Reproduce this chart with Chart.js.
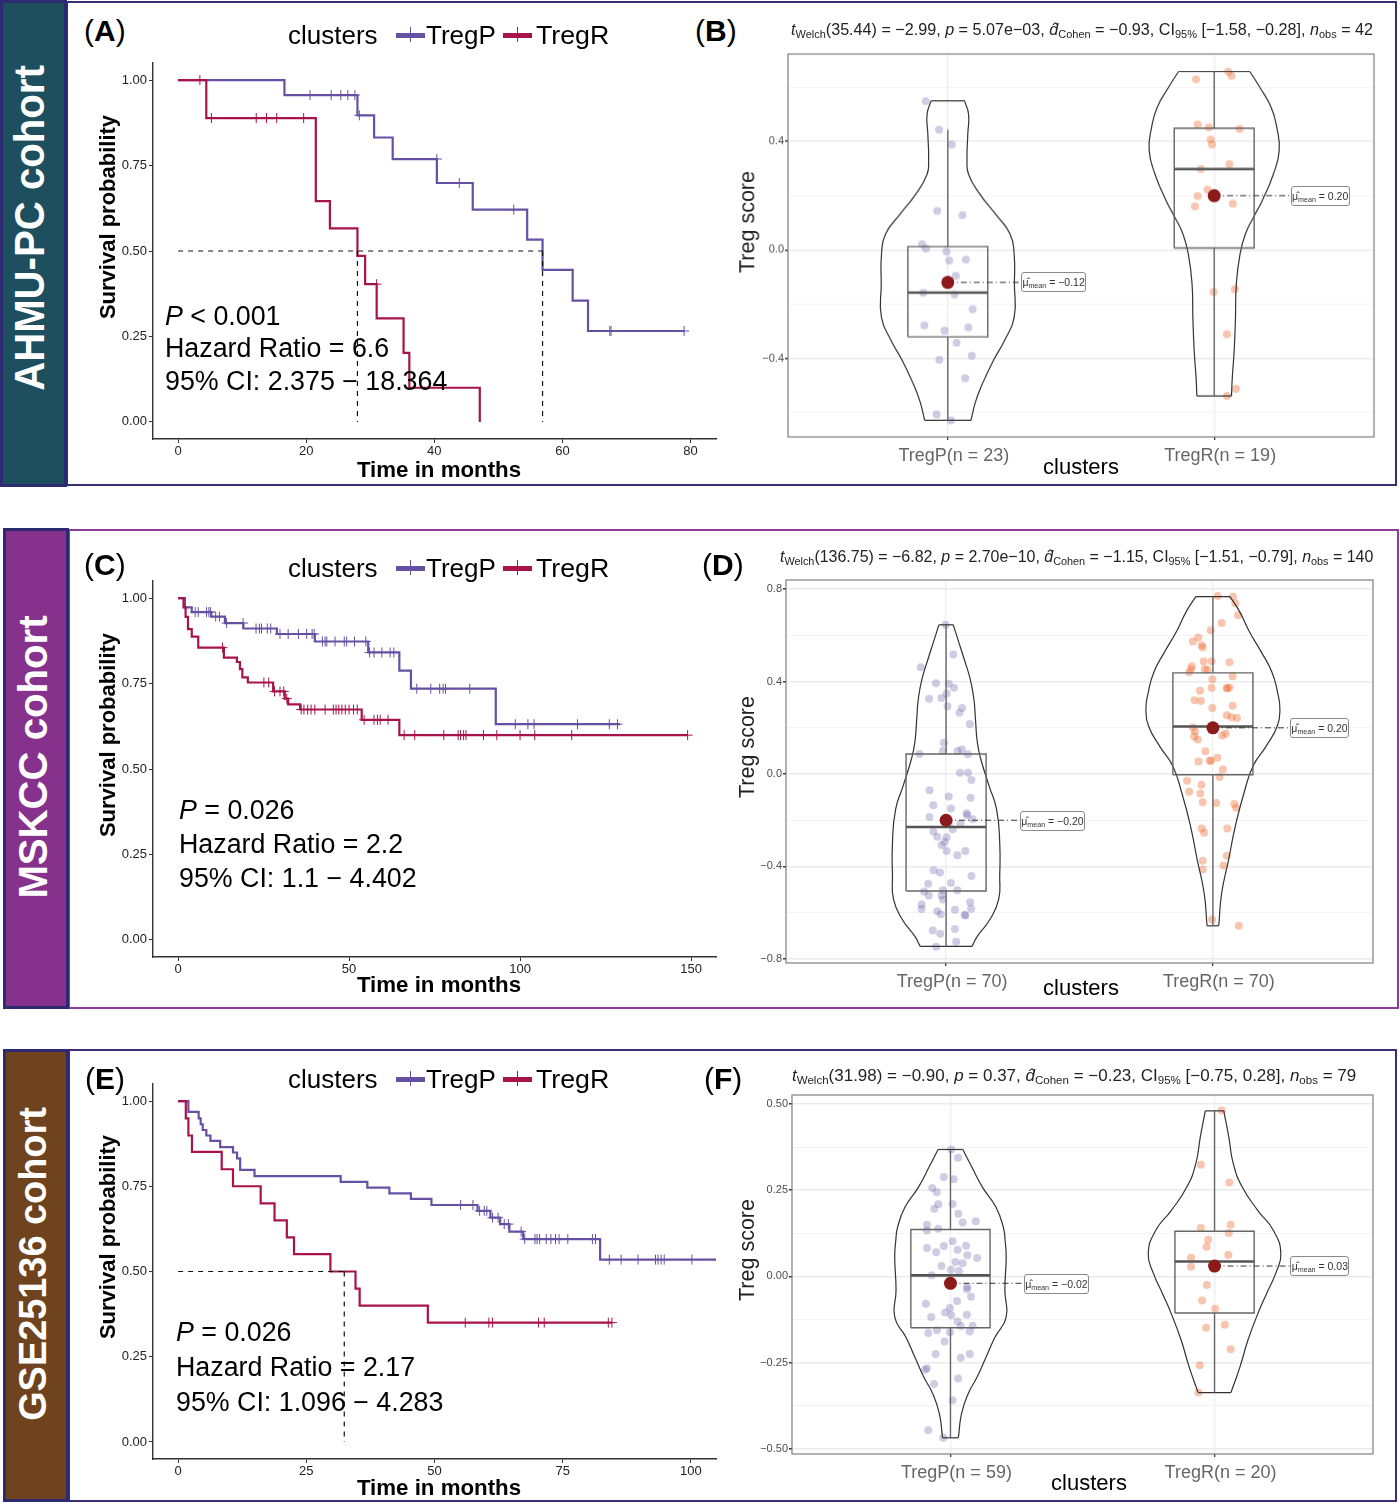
<!DOCTYPE html>
<html><head><meta charset="utf-8">
<script src="https://cdn.jsdelivr.net/npm/chart.js@4"></script>
<style>
html,body{margin:0;padding:0;background:#fff}
#page{position:relative;width:1400px;height:1503px;overflow:hidden;background:#fff;font-family:"Liberation Sans",Arial,sans-serif}
canvas{position:absolute}
.t{position:absolute;white-space:nowrap;line-height:1;color:#000}
.frame,.band{position:absolute;box-sizing:border-box}
.mean{position:absolute;box-sizing:border-box;height:20px;background:#fff;border:1px solid #8a8a8a;border-radius:3px;font-size:10.5px;line-height:18px;text-align:center;color:#333;white-space:nowrap}
sub{font-size:68%;line-height:0;vertical-align:-0.3em}
</style></head><body><div id="page"></div>
<script>
// ---------- Kaplan-Meier data (panel A) ----------
const aPt=[0,16.6,28,30.6,33.5,40.4,46,54.5,56.9,61.6,64,79];
const aPs=[1,.956,.897,.832,.769,.699,.621,.533,.445,.355,.266,.266];
const aRt=[0,4.4,21.5,23.7,28,29.2,31,35.2,36.1,47.1];
const aRs=[1,.889,.646,.566,.486,.403,.303,.202,.1,0];
const aPc=[[.956,[20.6,23.9,25.4,26.5,27.6]],[.897,[28.3]],[.769,[40.4]],[.699,[43.9]],[.621,[52.4]],[.266,[67.4,67.6,79]]];
const aRc=[[1,[3.4]],[.889,[5.2,12.2,13.8,15.4,19.6]],[.403,[31]]];
const aMedians=[28,56.9];
const aTicksX=[0,20,40,60,80];
// ---------- panel C ----------
const cPt=[0,2,4,9.7,13.7,19.1,28.9,40,55.6,64.7,68.1,92.9,129.2];
const cPs=[1,.973,.959,.946,.927,.911,.895,.873,.841,.788,.735,.631,.631];
const cRt=[0,1.6,2.2,2.9,4,5.9,13.4,17.2,18.1,18.8,20.4,27.8,31.2,32.2,35.7,53.7,64.7,149];
const cRs=[1,.973,.945,.909,.887,.855,.826,.813,.792,.768,.753,.727,.706,.689,.674,.644,.599,.599];
const cPc=[[.959,[5,5.9,8.3,9,9.5]],[.946,[11,12.1]],[.927,[14.2,19]],[.911,[22.8,23.8,24.4,26.1,27.1]],[.895,[29.8,32.2,35.2,37.6,39.2,39.8]],[.873,[42.2,43,43.5,45.9,48.6,49.3,51.6,54.9]],[.841,[56,57.3,59.6,62,63.1]],[.735,[69.8,73.9,76.5,77.5,78.2,85.3]],[.631,[98.6,102.3,104.1,116.8,126.1,128.5]]];
const cRc=[[.855,[13]],[.753,[25.1,26.5]],[.727,[28.2,29.8,30.9]],[.706,[31.8]],[.674,[36,36.8,37.9,38.9,40,43,45.4,46.2,47,47.9,48.9,50,51.3,52.4]],[.644,[54.4,57.3,58.3,59.1,61.4]],[.599,[66.1,69.2,77.7,81.9,82.6,83.5,84.2,89.3,93.2,100,104.3,115.1,149]]];
const cTicksX=[0,50,100,150];
// ---------- panel E ----------
const ePt=[0,2,4,4.4,4.8,5.5,6.3,8.2,10.7,11.5,12.1,14.9,31.7,36.9,41.2,45.4,49.4,58.4,60.9,62.8,64.6,67.3,82.3,104.9];
const ePs=[1,.968,.949,.932,.915,.899,.883,.865,.849,.832,.798,.78,.763,.746,.729,.713,.695,.678,.658,.639,.617,.595,.535,.535];
const eRt=[0,1.5,2,2.7,8.5,10.7,16.1,18.8,21.2,22.6,29.7,34.6,35.4,48.7,84.6];
const eRs=[1,.949,.899,.851,.8,.75,.7,.65,.6,.551,.5,.45,.4,.35,.35];
const ePc=[[.695,[55.1,57.5]],[.678,[58.8,59.7,60.2]],[.658,[61.3,62.4]],[.639,[63.6,64.4]],[.617,[66.9]],[.595,[67.6,69.6,70,70.5,71.8,72.7,73.6,74.3,76,80.8,81.4]],[.535,[84.1,86.4,89.7,93.1,93.6,94.2,94.8,100.2]]];
const eRc=[[.35,[56,60.6,61.3,70.3,71.4,83.9,84.6]]];
const eMedians=[32.4];
const eTicksX=[0,25,50,75,100];
const kmTicksY=[0,.25,.5,.75,1];

// ---------- Violin panel B ----------
const bPvy=[.55,.5,.427,.329,.279,.206,.132,.058,-.016,-.127,-.25,-.336,-.41,-.496,-.558,-.629];
const bPvw=[.063,.078,.075,.072,.078,.12,.179,.234,.249,.25,.249,.212,.17,.129,.105,.087];
const bRvy=[.658,.599,.526,.452,.366,.279,.181,.119,.058,-.016,-.127,-.25,-.373,-.471,-.539];
const bRvw=[.134,.172,.214,.235,.244,.222,.18,.147,.117,.097,.083,.08,.075,.068,.065];
const bPbox=[-.629,-.321,-.158,.012,.443];
const bRbox=[-.539,.007,.298,.449,.658];
const bMeans=[-.12,.20];
const bPx=[.917,.967,1.015,.96,1.055,.903,.918,.995,1.005,1.068,1.03,.908,1.025,1.093,.912,.988,1.077,1.033,.968,1.09,1.065,.958,1.012];
const bPy=[.549,.443,.389,.144,.128,.021,.005,-.006,-.039,-.036,-.096,-.159,-.165,-.219,-.279,-.298,-.286,-.343,-.406,-.391,-.474,-.607,-.629];
const bRx=[2.053,1.932,2.065,1.938,1.98,2.095,1.987,1.992,2.057,1.95,1.975,1.938,1.928,2.07,1.998,2.078,2.048,2.082,2.048];
const bRy=[.658,.629,.642,.463,.452,.446,.407,.389,.316,.298,.222,.198,.16,.171,-.155,-.145,-.311,-.513,-.539];
const bMajor=[-.4,0,.4], bMinor=[-.6,-.2,.2,.6];
const bCats=["TregP(n = 23)","TregR(n = 19)"];
// ---------- Violin panel D ----------
const dPvy=[.646,.587,.5,.413,.326,.239,.138,.065,-.051,-.152,-.297,-.442,-.543,-.63,-.703,-.746];
const dPvw=[.027,.043,.067,.09,.104,.11,.117,.13,.161,.189,.201,.201,.197,.164,.117,.097];
const dRvy=[.768,.703,.616,.529,.442,.355,.283,.21,.123,.036,-.08,-.225,-.37,-.514,-.657];
const dRvw=[.064,.1,.137,.181,.221,.242,.251,.242,.201,.151,.117,.084,.059,.033,.022];
const dPbox=[-.746,-.506,-.229,.087,.646];
const dRbox=[-.657,-.003,.206,.438,.768];
const dMeans=[-.20,.20];
const dPx=[.998,1.027,.905,.962,1.01,1.03,1.002,.936,.982,1.005,1.06,1.05,1.089,.992,1.059,1.043,.988,.9,1.082,1.052,1.082,1.095,.938,1.01,1.092,.952,1.018,1.077,1.079,.938,1.099,1.01,1.054,1.025,.952,.967,1.002,.995,.983,1.002,1.072,1.042,.953,.977,1.095,.933,1.018,.988,1.042,.918,.935,.983,.988,1.09,.908,1.094,.908,.967,.98,1.033,1.07,1.072,.95,1.033,.978,1.038,.963];
const dPy=[.646,.517,.462,.393,.391,.374,.349,.326,.329,.293,.286,.265,.217,.135,.106,.1,.1,.087,.086,.006,.006,-.026,-.07,-.097,-.103,-.135,-.149,-.17,-.178,-.186,-.196,-.214,-.214,-.239,-.249,-.271,-.274,-.294,-.307,-.333,-.333,-.352,-.417,-.426,-.441,-.475,-.472,-.503,-.503,-.509,-.526,-.526,-.543,-.555,-.565,-.583,-.584,-.594,-.607,-.587,-.609,-.612,-.677,-.671,-.691,-.726,-.748];
const dRx=[2.018,2.075,2.084,2.095,2.033,1.992,1.945,1.925,1.958,1.962,1.965,1.995,2.062,1.921,1.918,1.911,1.97,1.98,1.998,2.074,1.952,1.995,2.052,2.062,2.054,1.931,1.955,1.998,2.074,2.052,2.07,2.09,1.925,1.933,2.048,2.035,1.93,1.943,1.972,2.017,1.946,1.988,1.993,2.037,2.025,1.903,1.957,1.911,1.953,1.962,2.012,2.08,2.087,1.958,2.054,1.967,2.052,1.962,2.04,1.962,1.997,2.097];
const dRy=[.771,.767,.739,.687,.654,.622,.591,.574,.558,.548,.487,.488,.484,.467,.454,.441,.454,.451,.41,.423,.361,.372,.372,.375,.37,.319,.316,.286,.296,.255,.246,.243,.201,.184,.175,.167,.162,.149,.099,.07,.054,.058,.058,.02,-.013,-.029,-.046,-.077,-.084,-.122,-.125,-.13,-.146,-.236,-.236,-.254,-.354,-.375,-.396,-.413,-.63,-.657];
const dMajor=[-.8,-.4,0,.4,.8], dMinor=[-.6,-.2,.2,.6];
const dCats=["TregP(n = 70)","TregR(n = 70)"];
// ---------- Violin panel F ----------
const fPvy=[.368,.317,.259,.201,.143,.104,.056,-.041,-.118,-.176,-.234,-.292,-.34,-.398,-.468];
const fPvw=[.047,.081,.121,.172,.2,.207,.211,.206,.211,.169,.135,.101,.067,.042,.03];
const fRvy=[.48,.404,.327,.259,.191,.133,.066,.008,-.05,-.108,-.186,-.263,-.337];
const fRvw=[.035,.054,.071,.105,.164,.223,.251,.231,.197,.164,.126,.096,.062];
const fPbox=[-.468,-.149,.003,.136,.368];
const fRbox=[-.337,-.106,.043,.131,.48];
const fMeans=[-.02,.03];
const fPx=[1.003,1.029,.975,1.012,.931,.948,.954,1.008,.939,1.03,1.046,1.096,.911,.911,.954,1.008,.975,1.059,.911,1.027,.946,1.064,1.101,1.019,1.046,.966,1.002,1.032,.929,1.064,1.062,1.078,1.025,.907,.998,.98,1.003,1.062,.927,1.027,1.039,1.084,.949,.916,.998,1.073,.978,.944,1.073,1.039,.911,.904,1.029,.938,1.008,.916,.973];
const fPy=[.368,.344,.288,.282,.256,.244,.209,.21,.196,.182,.156,.16,.15,.133,.138,.102,.088,.089,.082,.077,.07,.061,.053,.042,.038,.03,.019,.016,.003,-.031,-.037,-.059,-.071,-.079,-.092,-.105,-.113,-.111,-.118,-.131,-.144,-.143,-.156,-.164,-.162,-.16,-.189,-.225,-.225,-.236,-.266,-.271,-.296,-.312,-.359,-.446,-.468];
const fRx=[2.027,1.948,2.056,1.948,2.061,2.054,1.976,1.97,2.052,1.911,1.911,1.971,1.953,2.002,2.039,1.968,2.061,1.944,1.939];
const fRy=[.481,.324,.272,.14,.15,.126,.106,.086,.062,.054,.028,-.025,-.07,-.094,-.14,-.149,-.211,-.258,-.337];
const fMajor=[-.5,-.25,0,.25,.5], fMinor=[-.375,-.125,.125,.375];
const fCats=["TregP(n = 59)","TregR(n = 20)"];

const COL_P='#6650a4', COL_R='#a8134a';
const FONT='"Liberation Sans",Arial,sans-serif';
const page=document.getElementById('page');
Chart.defaults.font.family=FONT;

function txt(html,x,y,size,opt={}){
  const e=document.createElement('div');e.className='t';e.innerHTML=html;
  const anchor=opt.anchor||'left';
  e.style.left=x+'px';e.style.top=y+'px';e.style.fontSize=size+'px';
  if(opt.bold)e.style.fontWeight='bold';
  if(opt.color)e.style.color=opt.color;
  page.appendChild(e);
  let sx='';
  if(opt.fit){sx=' scaleX('+(opt.fit/e.offsetWidth)+')';e.style.transformOrigin=anchor==='left'?'0 50%':'50% 50%';}
  const tx=anchor==='left'?'translate(0,-50%)':'translate(-50%,-50%)';
  e.style.transform=tx+(opt.rot?' rotate(-90deg)':'')+sx;
  return e;
}
function box(cls,x,y,w,h,css){const e=document.createElement('div');e.className=cls;
  e.style.cssText+=`left:${x}px;top:${y}px;width:${w}px;height:${h}px;`+css;page.appendChild(e);return e;}
function canvas(x,y,w,h){const c=document.createElement('canvas');c.width=w;c.height=h;
  c.style.cssText=`left:${x}px;top:${y}px;width:${w}px;height:${h}px`;page.appendChild(c);return c;}

const frame={id:'frame',afterDatasetsDraw(ch){const a=ch.chartArea,c=ch.ctx;c.save();c.strokeStyle='#7f7f7f';c.lineWidth=1.2;
  c.strokeRect(a.left,a.top,a.right-a.left,a.bottom-a.top);c.restore();}};

function zip(t,s){return t.map((v,i)=>({x:v,y:s[i]}));}
function censored(groups){const o=[];groups.forEach(([s,ts])=>ts.forEach(t=>o.push({x:t,y:s})));return o;}

function km(p){
  const [l,t,r,b]=p.plot, yW=46,xH=24,pad=14,nudge=1;
  const c=canvas(l-yW,t-pad+nudge,r-l+yW+pad,b-t+xH+pad);
  const ds=[
    {data:zip(p.Pt,p.Ps),showLine:true,stepped:true,borderColor:COL_P,borderWidth:2.2,pointRadius:0},
    {data:censored(p.Pc),showLine:false,pointStyle:'cross',pointRadius:5,pointBorderColor:COL_P,pointBorderWidth:1,pointBackgroundColor:COL_P},
    {data:zip(p.Rt,p.Rs),showLine:true,stepped:true,borderColor:COL_R,borderWidth:2.2,pointRadius:0},
    {data:censored(p.Rc),showLine:false,pointStyle:'cross',pointRadius:5,pointBorderColor:COL_R,pointBorderWidth:1,pointBackgroundColor:COL_R}
  ];
  const dash={showLine:true,borderColor:'#111',borderWidth:1.2,borderDash:[5,5],pointRadius:0};
  if(p.med.length){
    ds.push({...dash,data:[{x:0,y:.5},{x:p.med[p.med.length-1],y:.5}]});
    p.med.forEach(m=>ds.push({...dash,data:[{x:m,y:.5},{x:m,y:0}]}));
  }
  ds.reverse();
  new Chart(c,{type:'scatter',data:{datasets:ds},options:{
    responsive:false,animation:false,events:[],
    layout:{padding:{top:pad,right:pad,left:0,bottom:0}},
    plugins:{legend:{display:false},tooltip:{enabled:false}},
    scales:{
      x:{type:'linear',min:p.xr[0],max:p.xr[1],afterFit:s=>{s.height=xH},
        afterBuildTicks:s=>{s.ticks=p.xt.map(v=>({value:v}))},
        border:{color:'#333',width:1.4},grid:{drawOnChartArea:false,tickLength:4,color:'#333'},
        ticks:{autoSkip:false,maxRotation:0,padding:1,color:'#222',font:{size:13},callback:v=>String(v)}},
      y:{type:'linear',min:-.05,max:1.05,afterFit:s=>{s.width=yW},
        afterBuildTicks:s=>{s.ticks=kmTicksY.map(v=>({value:v}))},
        border:{color:'#333',width:1.4},grid:{drawOnChartArea:false,tickLength:4,color:'#333'},
        ticks:{autoSkip:false,padding:2,color:'#222',font:{size:13},callback:v=>v.toFixed(2)}}
    }}});
}

function violin(p){
  const [l,t,r,b]=p.plot,yW=38,xH=30,pad=14,nudge=1;
  const c=canvas(l-yW,t-pad+nudge,r-l+yW+pad,b-t+xH+pad);
  const ln=(d,col,w,extra={})=>({data:d,showLine:true,borderColor:col,borderWidth:w,pointRadius:0,...extra});
  const ds=[
    {data:zip(p.Px,p.Py),showLine:false,pointRadius:4,pointBorderWidth:0,pointBackgroundColor:'rgba(112,100,172,.33)'},
    {data:zip(p.Rx,p.Ry),showLine:false,pointRadius:4,pointBorderWidth:0,pointBackgroundColor:'rgba(238,116,62,.42)'}
  ];
  [[1,p.Pvy,p.Pvw,p.Pbox],[2,p.Rvy,p.Rvw,p.Rbox]].forEach(([cx,vy,vw,bx],i)=>{
    const VC='#333',BC='#666',hb=.15,n=vy.length-1;
    ds.push(ln(vy.map((y,k)=>({x:cx-vw[k],y})),VC,1.2,{tension:.5}));
    ds.push(ln(vy.map((y,k)=>({x:cx+vw[k],y})),VC,1.2,{tension:.5}));
    ds.push(ln([{x:cx-vw[0],y:vy[0]},{x:cx+vw[0],y:vy[0]}],VC,1.2));
    ds.push(ln([{x:cx-vw[n],y:vy[n]},{x:cx+vw[n],y:vy[n]}],VC,1.2));
    ds.push(ln([{x:cx,y:bx[0]},{x:cx,y:bx[1]}],BC,1.4));
    ds.push(ln([{x:cx,y:bx[3]},{x:cx,y:bx[4]}],BC,1.4));
    ds.push(ln([{x:cx-hb,y:bx[1]},{x:cx+hb,y:bx[1]},{x:cx+hb,y:bx[3]},{x:cx-hb,y:bx[3]},{x:cx-hb,y:bx[1]}],BC,1.4));
    ds.push(ln([{x:cx-hb,y:bx[2]},{x:cx+hb,y:bx[2]}],'#555',2.6));
    ds.push(ln([{x:cx,y:p.means[i]},{x:cx+p.lead[i],y:p.means[i]}],'#333',1,{borderDash:[6,3,1,3]}));
    ds.push({data:[{x:cx,y:p.means[i]}],showLine:false,pointRadius:6.5,pointBorderWidth:0,pointBackgroundColor:'#8b1a1a'});
  });
  ds.reverse();
  const all=[...p.major,...p.minor];
  const isMaj=v=>p.major.includes(v);
  const ch=new Chart(c,{type:'scatter',data:{datasets:ds},plugins:[frame],options:{
    responsive:false,animation:false,events:[],
    layout:{padding:{top:pad,right:pad,left:0,bottom:0}},
    plugins:{legend:{display:false},tooltip:{enabled:false}},
    scales:{
      x:{type:'linear',min:.4,max:2.6,afterFit:s=>{s.height=xH},
        afterBuildTicks:s=>{s.ticks=[1,2].map(v=>({value:v}))},
        border:{display:false},grid:{color:'#eeeeee',lineWidth:1.3,tickLength:3,tickColor:'#333'},
        ticks:{autoSkip:false,maxRotation:0,padding:5,labelOffset:6,color:'#666',font:{size:18},callback:v=>p.cats[v-1]}},
      y:{type:'linear',min:p.yr[0],max:p.yr[1],afterFit:s=>{s.width=yW},
        afterBuildTicks:s=>{s.ticks=all.map(v=>({value:v}))},
        border:{display:false},
        grid:{color:x=>isMaj(x.tick.value)?'#ebebeb':'#f3f3f3',lineWidth:x=>isMaj(x.tick.value)?1.5:1,tickLength:3,
          tickColor:x=>isMaj(x.tick.value)?'#333':'rgba(0,0,0,0)'},
        ticks:{autoSkip:false,padding:1,color:'#4d4d4d',font:{size:11},
          callback:v=>isMaj(v)?v.toFixed(p.dec).replace('-','\u2212'):''}}
    }}});
  // labelled means, anchored on the chart's own scales
  p.means.forEach((m,i)=>{
    const cx=i+1, px=ch.scales.x.getPixelForValue(cx+p.lead[i])+(l-yW), py=ch.scales.y.getPixelForValue(m)+(t-pad+nudge);
    const e=document.createElement('div');e.className='mean';
    e.style.left=px+'px';e.style.top=(py-10)+'px';e.style.width=(i?59:65)+'px';
    e.innerHTML='\u03bc\u0302<sub>mean</sub> = '+(m<0?'\u2212':'')+Math.abs(m).toFixed(2);
    page.appendChild(e);
  });
}

// ---------- cohort frames ----------
box('frame',66,1,1331,485,'border:2px solid #34306f;');
box('band',0,0,67,487,'background:#1d4f5e;border:3px solid #2e2a72;');
box('frame',68,529,1331,480,'border:2px solid #8e3a9d;');
box('band',3,528,66,481,'background:#86318c;border:3px solid #2e2a72;');
box('frame',68,1049,1329,453,'border:2px solid #3e2d73;');
box('band',3,1049,66,453,'background:#6e431d;border:3px solid #2e2a72;');
const W={bold:true,color:'#fff',rot:true,anchor:'center'};
txt('AHMU-PC cohort',30,228,42,{...W,fit:326});
txt('MSKCC cohort',33,757,40,{...W,fit:283});
txt('GSE25136 cohort',33,1264,38,{...W,fit:314});

// ---------- survival panels ----------
km({plot:[153,62,716,438],xr:[-3.92,83.98],xt:aTicksX,Pt:aPt,Ps:aPs,Rt:aRt,Rs:aRs,Pc:aPc,Rc:aRc,med:aMedians});
km({plot:[153,580,716,956],xr:[-7.33,157.3],xt:cTicksX,Pt:cPt,Ps:cPs,Rt:cRt,Rs:cRs,Pc:cPc,Rc:cRc,med:[]});
km({plot:[153,1083,716,1458],xr:[-4.9,104.9],xt:eTicksX,Pt:ePt,Ps:ePs,Rt:eRt,Rs:eRs,Pc:ePc,Rc:eRc,med:eMedians});

// ---------- violin panels ----------
violin({plot:[787.5,53.3,1374,436],yr:[-.6905,.7227],dec:1,major:bMajor,minor:bMinor,cats:bCats,Px:bPx,Py:bPy,Rx:bRx,Ry:bRy,Pvy:bPvy,Pvw:bPvw,Rvy:bRvy,Rvw:bRvw,Pbox:bPbox,Rbox:bRbox,means:bMeans,lead:[.277,.289]});
violin({plot:[786,579.3,1373,962.3],yr:[-.818,.84],dec:1,major:dMajor,minor:dMinor,cats:dCats,Px:dPx,Py:dPy,Rx:dRx,Ry:dRy,Pvy:dPvy,Pvw:dPvw,Rvy:dRvy,Rvw:dRvw,Pbox:dPbox,Rbox:dRbox,means:dMeans,lead:[.277,.289]});
violin({plot:[792,1094.3,1373,1453.3],yr:[-.515,.526],dec:2,major:fMajor,minor:fMinor,cats:fCats,Px:fPx,Py:fPy,Rx:fRx,Ry:fRy,Pvy:fPvy,Pvw:fPvw,Rvy:fRvy,Rvw:fRvw,Pbox:fPbox,Rbox:fRbox,means:fMeans,lead:[.278,.287]});

// ---------- texts ----------
const letter=(L,x,y)=>txt(`(<b>${L}</b>)`,x,y,30);
letter('A',84,31);letter('B',695,31);letter('C',84,565);letter('D',702,565);letter('E',85,1079);letter('F',704,1079);

function legend(y){
  txt('clusters',288,y,26);
  box('sw',396,y-2.5,29,5,`position:absolute;background:${COL_P};`);
  box('sw',410,y-8,1.4,15,`position:absolute;background:${COL_P};`);
  txt('TregP',426,y,26);
  box('sw',503,y-2.5,29,5,`position:absolute;background:${COL_R};`);
  box('sw',517,y-8,1.4,15,`position:absolute;background:${COL_R};`);
  txt('TregR',536,y,26,{fit:73});
}
legend(35);legend(568);legend(1079);

function km_text(x,ys,a,b,c){txt(a,x,ys[0],26.8);txt(b,x,ys[1],26.8);txt(c,x,ys[2],26.8);}
km_text(165,[316,348,381],'<i>P</i> &lt; 0.001','Hazard Ratio = 6.6','95% CI: 2.375 \u2212 18.364');
km_text(179,[810,844,878],'<i>P</i> = 0.026','Hazard Ratio = 2.2','95% CI: 1.1 \u2212 4.402');
km_text(176,[1332,1367,1402],'<i>P</i> = 0.026','Hazard Ratio = 2.17','95% CI: 1.096 \u2212 4.283');

const R={rot:true,anchor:'center'};
[[217,470],[735,985],[1237,1488]].forEach(([yc,xy])=>{
  txt('Survival probability',108,yc,22,{...R,bold:true});
  txt('Time in months',439,xy,22,{bold:true,anchor:'center',fit:164});
});
[[222,1081,467],[747,1081,988],[1250,1089,1483]].forEach(([yc,cx,cy])=>{
  txt('Treg score',748,yc,21.5,{...R,color:'#222'});
  txt('clusters',cx,cy,22,{anchor:'center'});
});
const stat=(df,t,p,d,ci,n)=>`<i>t</i><sub>Welch</sub>(${df}) = ${t}, <i>p</i> = ${p}, <i>d\u0302</i><sub>Cohen</sub> = ${d}, CI<sub>95%</sub> [${ci}], <i>n</i><sub>obs</sub> = ${n}`;
txt(stat('35.44','\u22122.99','5.07e\u221203','\u22120.93','\u22121.58, \u22120.28','42'),791,29,16.5,{fit:582,color:'#222'});
txt(stat('136.75','\u22126.82','2.70e\u221210','\u22121.15','\u22121.51, \u22120.79','140'),779.5,556,16.5,{fit:593,color:'#222'});
txt(stat('31.98','\u22120.90','0.37','\u22120.23','\u22120.75, 0.28','79'),791.5,1075,16.5,{fit:564,color:'#222'});
</script></body></html>
